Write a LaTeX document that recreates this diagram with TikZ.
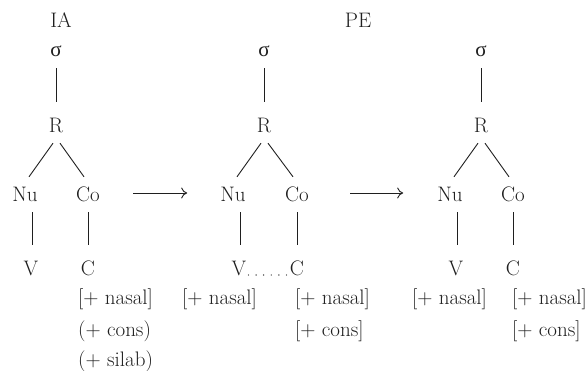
\documentclass[tikz,border=0pt]{standalone}
\usepackage{fontspec}
\newfontfamily\grk{Liberation Serif}
\usetikzlibrary{arrows.meta}
\definecolor{ink}{gray}{0.12}
\begin{document}
\begin{tikzpicture}[x=1pt,y=-1pt,
  lbl/.style={inner sep=0pt, text height=14pt, text depth=4pt, anchor=base,
              font=\fontsize{21}{25}\selectfont, text=ink},
  feat/.style={lbl, anchor=base west},
  sig/.style={lbl, font=\fontsize{21}{25}\selectfont\grk},
  edge/.style={draw=ink, line width=0.9pt},
  arr/.style={draw=ink, line width=0.9pt, -{Computer Modern Rightarrow[length=6pt,width=11pt]}},
  dots/.style={draw=ink, line width=1.4pt, line cap=round, dash pattern=on 0pt off 7.6pt}
]
\useasboundingbox (0,0) rectangle (588,371);

% titles
\node[lbl] (IA) at (61,28) {IA};
\node[lbl] (PE) at (358,28) {PE};

% ---------- tree 1 ----------
\node[sig] (s1) at (56,57) {σ};
\node[lbl] (R1) at (56,133) {R};
\node[lbl] (Nu1) at (25,202) {Nu};
\node[lbl] (Co1) at (88,202) {Co};
\node[lbl] (V1) at (31,275) {V};
\node[lbl] (C1) at (88,275) {C};
\node[feat] (f1a) at (78,304) {[+ nasal]};
\node[feat] (f1b) at (78,336) {(+ cons)};
\node[feat] (f1c) at (78,366) {(+ silab)};

% ---------- tree 2 ----------
\node[sig] (s2) at (264,57) {σ};
\node[lbl] (R2) at (264,133) {R};
\node[lbl] (Nu2) at (233,202) {Nu};
\node[lbl] (Co2) at (297,202) {Co};
\node[lbl] (V2) at (239,275) {V};
\node[lbl] (C2) at (297,275) {C};
\node[feat] (f2a) at (182,304) {[+ nasal]};
\node[feat] (f2b) at (295,304) {[+ nasal]};
\node[feat] (f2c) at (295,336) {[+ cons]};

% ---------- tree 3 ----------
\node[sig] (s3) at (481,57) {σ};
\node[lbl] (R3) at (481,133) {R};
\node[lbl] (Nu3) at (450,202) {Nu};
\node[lbl] (Co3) at (513,202) {Co};
\node[lbl] (V3) at (456,275) {V};
\node[lbl] (C3) at (513,275) {C};
\node[feat] (f3a) at (412,304) {[+ nasal]};
\node[feat] (f3b) at (512,304) {[+ nasal]};
\node[feat] (f3c) at (512,336) {[+ cons]};

% ---------- edges ----------
\foreach \t in {1,2,3}{
  \draw[edge] ([yshift=-7pt]s\t.south) -- ([yshift=17pt]R\t.north);
  \draw[edge] ([xshift=-3pt,yshift=-6pt]R\t.south) -- ([xshift=4pt,yshift=11pt]Nu\t.north);
  \draw[edge] ([xshift=4pt,yshift=-6pt]R\t.south) -- ([xshift=-4pt,yshift=11pt]Co\t.north);
  \draw[edge] ([xshift=7pt,yshift=-6pt]Nu\t.south) -- ([xshift=1pt,yshift=16pt]V\t.north);
  \draw[edge] ([yshift=-6pt]Co\t.south) -- ([yshift=16pt]C\t.north);
}

% association line in tree 2
\draw[dots, shorten <=2pt, shorten >=1.5pt] (V2.base east) -- (C2.base west);

% arrows between trees
\draw[arr, shorten <=33pt, shorten >=33pt] ([yshift=4pt]Co1.east) -- ([yshift=4pt]Nu2.west);
\draw[arr, shorten <=41pt, shorten >=34pt] ([yshift=4pt]Co2.east) -- ([yshift=4pt]Nu3.west);
\end{tikzpicture}
\end{document}
